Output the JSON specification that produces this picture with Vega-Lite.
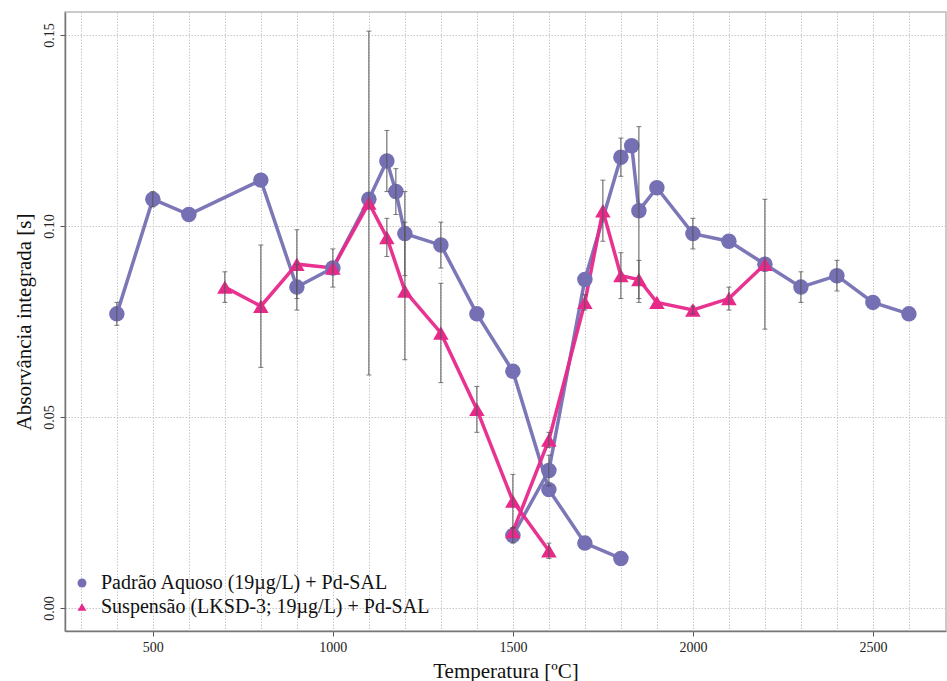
{
  "$schema": "https://vega.github.io/schema/vega-lite/v6.json",
  "width": 881,
  "height": 619,
  "autosize": "none",
  "padding": {"left": 65, "top": 12, "right": 1, "bottom": 50},
  "background": "white",
  "config": {
    "font": "Liberation Serif",
    "view": {"stroke": "#bbbbbb", "strokeWidth": 1.5},
    "axis": {
      "labelFont": "Liberation Serif",
      "titleFont": "Liberation Serif",
      "labelFontSize": 14,
      "titleFontSize": 21,
      "titleFontWeight": "normal",
      "labelColor": "#222",
      "titleColor": "#111",
      "gridColor": "#c8c8c8",
      "gridDash": [1.5, 1.5],
      "gridWidth": 1,
      "domainColor": "#777777",
      "domainWidth": 1.5,
      "tickColor": "#555555",
      "tickSize": 5
    },
    "legend": {
      "labelFont": "Liberation Serif",
      "labelFontSize": 20,
      "labelColor": "#111",
      "labelLimit": 0
    }
  },
  "data": {
    "values": [
      {"s": "Padrão Aquoso (19µg/L) + Pd-SAL", "c": "PA", "t": 400, "v": 0.077, "lo": 0.074, "hi": 0.080},
      {"s": "Padrão Aquoso (19µg/L) + Pd-SAL", "c": "PA", "t": 500, "v": 0.107, "lo": 0.105, "hi": 0.109},
      {"s": "Padrão Aquoso (19µg/L) + Pd-SAL", "c": "PA", "t": 600, "v": 0.103, "lo": null, "hi": null},
      {"s": "Padrão Aquoso (19µg/L) + Pd-SAL", "c": "PA", "t": 800, "v": 0.112, "lo": null, "hi": null},
      {"s": "Padrão Aquoso (19µg/L) + Pd-SAL", "c": "PA", "t": 900, "v": 0.084, "lo": 0.078, "hi": 0.090},
      {"s": "Padrão Aquoso (19µg/L) + Pd-SAL", "c": "PA", "t": 1000, "v": 0.089, "lo": 0.084, "hi": 0.094},
      {"s": "Padrão Aquoso (19µg/L) + Pd-SAL", "c": "PA", "t": 1100, "v": 0.107, "lo": null, "hi": null},
      {"s": "Padrão Aquoso (19µg/L) + Pd-SAL", "c": "PA", "t": 1150, "v": 0.117, "lo": 0.109, "hi": 0.125},
      {"s": "Padrão Aquoso (19µg/L) + Pd-SAL", "c": "PA", "t": 1175, "v": 0.109, "lo": 0.103, "hi": 0.115},
      {"s": "Padrão Aquoso (19µg/L) + Pd-SAL", "c": "PA", "t": 1200, "v": 0.098, "lo": 0.087, "hi": 0.109},
      {"s": "Padrão Aquoso (19µg/L) + Pd-SAL", "c": "PA", "t": 1300, "v": 0.095, "lo": 0.089, "hi": 0.101},
      {"s": "Padrão Aquoso (19µg/L) + Pd-SAL", "c": "PA", "t": 1400, "v": 0.077, "lo": null, "hi": null},
      {"s": "Padrão Aquoso (19µg/L) + Pd-SAL", "c": "PA", "t": 1500, "v": 0.062, "lo": null, "hi": null},
      {"s": "Padrão Aquoso (19µg/L) + Pd-SAL", "c": "PA", "t": 1600, "v": 0.031, "lo": null, "hi": null},
      {"s": "Padrão Aquoso (19µg/L) + Pd-SAL", "c": "PA", "t": 1700, "v": 0.017, "lo": null, "hi": null},
      {"s": "Padrão Aquoso (19µg/L) + Pd-SAL", "c": "PA", "t": 1800, "v": 0.013, "lo": null, "hi": null},
      {"s": "Padrão Aquoso (19µg/L) + Pd-SAL", "c": "PB", "t": 1500, "v": 0.019, "lo": 0.017, "hi": 0.021},
      {"s": "Padrão Aquoso (19µg/L) + Pd-SAL", "c": "PB", "t": 1600, "v": 0.036, "lo": 0.032, "hi": 0.040},
      {"s": "Padrão Aquoso (19µg/L) + Pd-SAL", "c": "PB", "t": 1700, "v": 0.086, "lo": null, "hi": null},
      {"s": "Padrão Aquoso (19µg/L) + Pd-SAL", "c": "PB", "t": 1800, "v": 0.118, "lo": 0.113, "hi": 0.123},
      {"s": "Padrão Aquoso (19µg/L) + Pd-SAL", "c": "PB", "t": 1830, "v": 0.121, "lo": null, "hi": null},
      {"s": "Padrão Aquoso (19µg/L) + Pd-SAL", "c": "PB", "t": 1850, "v": 0.104, "lo": 0.080, "hi": 0.126},
      {"s": "Padrão Aquoso (19µg/L) + Pd-SAL", "c": "PB", "t": 1900, "v": 0.110, "lo": null, "hi": null},
      {"s": "Padrão Aquoso (19µg/L) + Pd-SAL", "c": "PB", "t": 2000, "v": 0.098, "lo": 0.094, "hi": 0.102},
      {"s": "Padrão Aquoso (19µg/L) + Pd-SAL", "c": "PB", "t": 2100, "v": 0.096, "lo": null, "hi": null},
      {"s": "Padrão Aquoso (19µg/L) + Pd-SAL", "c": "PB", "t": 2200, "v": 0.090, "lo": null, "hi": null},
      {"s": "Padrão Aquoso (19µg/L) + Pd-SAL", "c": "PB", "t": 2300, "v": 0.084, "lo": 0.080, "hi": 0.088},
      {"s": "Padrão Aquoso (19µg/L) + Pd-SAL", "c": "PB", "t": 2400, "v": 0.087, "lo": 0.083, "hi": 0.091},
      {"s": "Padrão Aquoso (19µg/L) + Pd-SAL", "c": "PB", "t": 2500, "v": 0.080, "lo": null, "hi": null},
      {"s": "Padrão Aquoso (19µg/L) + Pd-SAL", "c": "PB", "t": 2600, "v": 0.077, "lo": null, "hi": null},
      {"s": "Suspensão (LKSD-3; 19µg/L) + Pd-SAL", "c": "SA", "t": 700, "v": 0.084, "lo": 0.080, "hi": 0.088},
      {"s": "Suspensão (LKSD-3; 19µg/L) + Pd-SAL", "c": "SA", "t": 800, "v": 0.079, "lo": 0.063, "hi": 0.095},
      {"s": "Suspensão (LKSD-3; 19µg/L) + Pd-SAL", "c": "SA", "t": 900, "v": 0.090, "lo": 0.081, "hi": 0.099},
      {"s": "Suspensão (LKSD-3; 19µg/L) + Pd-SAL", "c": "SA", "t": 1000, "v": 0.089, "lo": null, "hi": null},
      {"s": "Suspensão (LKSD-3; 19µg/L) + Pd-SAL", "c": "SA", "t": 1100, "v": 0.106, "lo": 0.061, "hi": 0.151},
      {"s": "Suspensão (LKSD-3; 19µg/L) + Pd-SAL", "c": "SA", "t": 1150, "v": 0.097, "lo": 0.092, "hi": 0.102},
      {"s": "Suspensão (LKSD-3; 19µg/L) + Pd-SAL", "c": "SA", "t": 1200, "v": 0.083, "lo": 0.065, "hi": 0.101},
      {"s": "Suspensão (LKSD-3; 19µg/L) + Pd-SAL", "c": "SA", "t": 1300, "v": 0.072, "lo": 0.059, "hi": 0.085},
      {"s": "Suspensão (LKSD-3; 19µg/L) + Pd-SAL", "c": "SA", "t": 1400, "v": 0.052, "lo": 0.046, "hi": 0.058},
      {"s": "Suspensão (LKSD-3; 19µg/L) + Pd-SAL", "c": "SA", "t": 1500, "v": 0.028, "lo": 0.021, "hi": 0.035},
      {"s": "Suspensão (LKSD-3; 19µg/L) + Pd-SAL", "c": "SA", "t": 1600, "v": 0.015, "lo": 0.013, "hi": 0.017},
      {"s": "Suspensão (LKSD-3; 19µg/L) + Pd-SAL", "c": "SB", "t": 1500, "v": 0.020, "lo": null, "hi": null},
      {"s": "Suspensão (LKSD-3; 19µg/L) + Pd-SAL", "c": "SB", "t": 1600, "v": 0.044, "lo": 0.042, "hi": 0.046},
      {"s": "Suspensão (LKSD-3; 19µg/L) + Pd-SAL", "c": "SB", "t": 1700, "v": 0.080, "lo": 0.078, "hi": 0.082},
      {"s": "Suspensão (LKSD-3; 19µg/L) + Pd-SAL", "c": "SB", "t": 1750, "v": 0.104, "lo": 0.096, "hi": 0.112},
      {"s": "Suspensão (LKSD-3; 19µg/L) + Pd-SAL", "c": "SB", "t": 1800, "v": 0.087, "lo": 0.081, "hi": 0.093},
      {"s": "Suspensão (LKSD-3; 19µg/L) + Pd-SAL", "c": "SB", "t": 1850, "v": 0.086, "lo": 0.081, "hi": 0.091},
      {"s": "Suspensão (LKSD-3; 19µg/L) + Pd-SAL", "c": "SB", "t": 1900, "v": 0.080, "lo": null, "hi": null},
      {"s": "Suspensão (LKSD-3; 19µg/L) + Pd-SAL", "c": "SB", "t": 2000, "v": 0.078, "lo": 0.077, "hi": 0.079},
      {"s": "Suspensão (LKSD-3; 19µg/L) + Pd-SAL", "c": "SB", "t": 2100, "v": 0.081, "lo": 0.078, "hi": 0.084},
      {"s": "Suspensão (LKSD-3; 19µg/L) + Pd-SAL", "c": "SB", "t": 2200, "v": 0.090, "lo": 0.073, "hi": 0.107}
    ]
  },
  "encoding": {
    "x": {
      "field": "t",
      "type": "quantitative",
      "scale": {"domain": [256, 2703], "nice": false, "zero": false},
      "axis": {
        "title": "Temperatura [ºC]",
        "values": [300, 400, 500, 600, 700, 800, 900, 1000, 1100, 1200, 1300, 1400, 1500, 1600, 1700, 1800, 1900, 2000, 2100, 2200, 2300, 2400, 2500, 2600, 2700],
        "format": "d",
        "labelFont": "Liberation Serif",
        "titleFont": "Liberation Serif",
        "labelExpr": "datum.value % 500 === 0 ? datum.label : ''",
        "tickOpacity": {"condition": {"test": "datum.value % 500 === 0", "value": 1}, "value": 0},
        "labelPadding": 4,
        "titlePadding": 6
      }
    },
    "y": {
      "field": "v",
      "type": "quantitative",
      "scale": {"domain": [-0.006, 0.156], "nice": false, "zero": false},
      "axis": {
        "title": "Absorvância integrada [s]",
        "values": [0, 0.05, 0.1, 0.15],
        "format": ".2f",
        "labelFont": "Liberation Serif",
        "titleFont": "Liberation Serif",
        "labelAngle": -90,
        "labelPadding": 4,
        "titlePadding": 8
      }
    }
  },
  "layer": [
    {
      "mark": {"type": "line", "strokeWidth": 3.5, "opacity": 0.95},
      "encoding": {
        "stroke": {
          "field": "s",
          "type": "nominal",
          "scale": {"range": ["#7570b3", "#e7298a"]},
          "legend": null
        },
        "detail": {"field": "c"}
      }
    },
    {
      "mark": {"type": "point", "filled": true, "opacity": 1, "size": 240},
      "encoding": {
        "color": {
          "field": "s",
          "type": "nominal",
          "scale": {"range": ["#7570b3", "#e7298a"]},
          "legend": {
            "title": null,
            "orient": "none",
            "legendX": 7,
            "legendY": 561,
            "rowPadding": 4,
            "labelOffset": 9,
            "symbolSize": 80
          }
        },
        "shape": {
          "field": "s",
          "type": "nominal",
          "scale": {"range": ["circle", "triangle-up"]},
          "legend": {
            "title": null,
            "orient": "none",
            "legendX": 7,
            "legendY": 561,
            "rowPadding": 4,
            "labelOffset": 9,
            "symbolSize": 80
          }
        }
      }
    },
    {
      "transform": [{"filter": "datum.lo != null"}],
      "mark": {"type": "errorbar", "ticks": {"size": 5, "color": "#444"}, "color": "#555", "thickness": 1},
      "encoding": {
        "y": {"field": "lo", "type": "quantitative", "title": "Absorvância integrada [s]"},
        "y2": {"field": "hi"}
      }
    }
  ]
}
